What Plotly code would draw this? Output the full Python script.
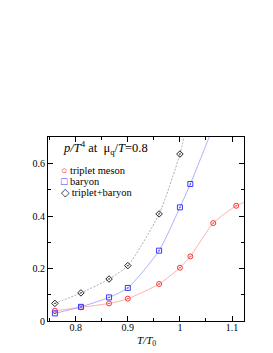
import plotly.graph_objects as go

# Data
T_over_T0 = [0.76, 0.81, 0.864, 0.90, 0.96, 1.00, 1.02, 1.064, 1.108]
triplet_meson = [0.039, 0.052, 0.067, 0.085, 0.141, 0.203, 0.246, 0.373, 0.439]

T_baryon = [0.76, 0.81, 0.864, 0.90, 0.96, 1.00, 1.02]
baryon = [0.029, 0.054, 0.090, 0.126, 0.268, 0.433, 0.522]

T_sum = [0.76, 0.81, 0.864, 0.90, 0.96, 1.00]
triplet_baryon = [0.067, 0.107, 0.160, 0.211, 0.408, 0.636]

# curve continuations beyond the last point
triplet_ext_T = [1.13]
triplet_ext = [0.457]
baryon_ext_T = [1.064]
baryon_ext = [0.74]
sum_ext_T = [1.02]
sum_ext = [0.81]

red = "#ff3030"
blue = "#3838ff"
black = "#202020"
serif = "Liberation Serif, Times New Roman, serif"

fig = go.Figure()

def add(tx, ty, ex_t, ex_y, color, linecolor, symbol, dash, size):
    fig.add_trace(go.Scatter(x=tx + ex_t, y=ty + ex_y, mode="lines",
                             line=dict(color=linecolor, width=0.8, dash=dash, shape="spline", smoothing=0.6),
                             hoverinfo="skip", showlegend=False))
    fig.add_trace(go.Scatter(x=tx, y=ty, mode="markers",
                             marker=dict(symbol=symbol, size=size, color=color,
                                         line=dict(color=color, width=1)),
                             showlegend=False))

add(T_over_T0, triplet_meson, triplet_ext_T, triplet_ext, red, "#ff9a9a", "circle-open-dot", "solid", 5)
add(T_baryon, baryon, baryon_ext_T, baryon_ext, blue, "#9a9aff", "square-open-dot", "solid", 5)
add(T_sum, triplet_baryon, sum_ext_T, sum_ext, black, "#999999", "diamond-open-dot", "2px,1.5px", 5)

axis_common = dict(showline=True, linecolor="black", linewidth=1.2, mirror="ticks",
                   ticks="inside", ticklen=5, tickcolor="black", tickwidth=1,
                   showgrid=False, zeroline=False, automargin=False,
                   tickfont=dict(family=serif, size=10, color="black"))

fig.update_xaxes(range=[0.7468, 1.123], tick0=0.8, dtick=0.1,
                 minor=dict(ticks="inside", ticklen=3, dtick=0.05, tick0=0.8, tickcolor="black", showgrid=False),
                 ticklabelstandoff=-3,
                 **axis_common)
fig.update_yaxes(range=[0, 0.701], tick0=0, dtick=0.2,
                 minor=dict(ticks="inside", ticklen=3, dtick=0.1, tick0=0, tickcolor="black", showgrid=False),
                 **axis_common)

ann_font = dict(family=serif, size=10.5, color="black")
fig.add_annotation(xref="paper", yref="paper", x=0.065, y=(313 - 151) / 184, xanchor="left", yanchor="bottom",
                   text="<i>p/T</i><sup>4</sup> at  μ<sub>q</sub>/<i>T</i>=0.8", showarrow=False,
                   font=dict(family=serif, size=12.5, color="black"))
fig.add_annotation(xref="paper", yref="paper", x=(138 - 40) / 196, y=(313 - 332.5) / 184,
                   xanchor="center", yanchor="middle", showarrow=False,
                   text="<i>T/T</i><sub>0</sub>", font=dict(family=serif, size=11, color="black"))
items = [("○", red, "triplet meson"), ("□", blue, "baryon"), ("◇", black, "triplet+baryon")]
for i, (sym, col, txt) in enumerate(items):
    fig.add_annotation(xref="paper", yref="paper", x=0.055, y=(313 - (162 + 11 * i)) / 184,
                       xanchor="left", yanchor="middle", showarrow=False,
                       text=f"<span style='color:{col}'>{sym}</span> {txt}", font=ann_font)

fig.update_layout(width=273, height=353, margin=dict(l=40, r=37, t=129, b=40),
                  plot_bgcolor="white", paper_bgcolor="white", showlegend=False)

fig.write_html("out.html")
